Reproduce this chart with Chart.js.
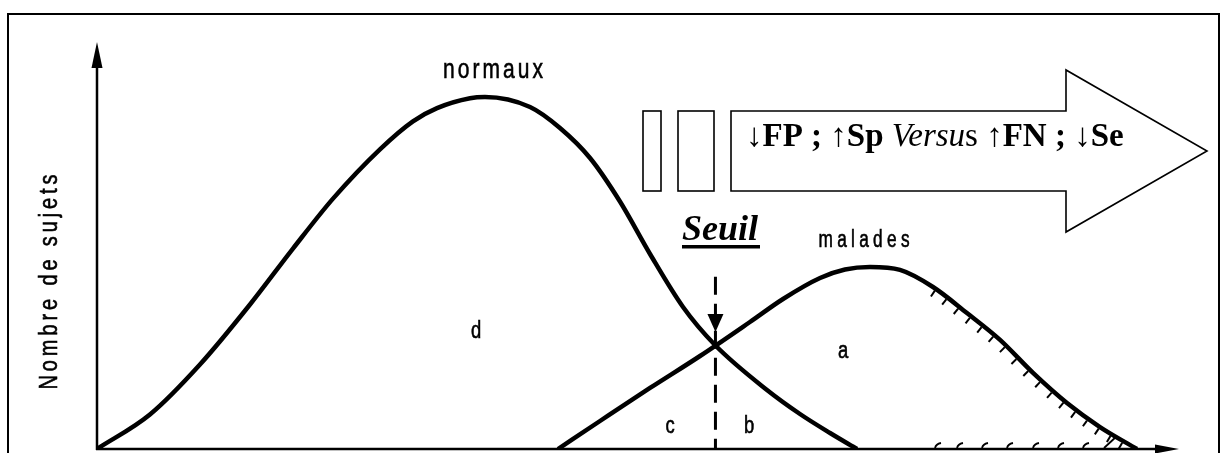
<!DOCTYPE html>
<html><head><meta charset="utf-8">
<script src="https://cdn.jsdelivr.net/npm/chart.js@4.4.0/dist/chart.umd.min.js"></script>
<style>html,body{margin:0;padding:0;background:#fff;}#wrap{width:1221px;height:453px;}</style>
</head><body><div id="wrap"><canvas id="c" width="1221" height="453"></canvas></div>
<script>
// ---- data (arbitrary units 0..100) ----
const normauxX = [0, 4.88, 9.49, 14.10, 18.06, 21.75, 26.08, 29.12, 31.34, 34.38, 35.76, 39.91, 42.67, 45.44, 48.20, 50.97, 54.01, 56.96, 61.75, 64.79, 67.56, 70.05];
const normauxY = [0, 8.48, 20.76, 35.50, 49.24, 61.52, 73.64, 80.52, 83.76, 86.19, 86.49, 84.03, 78.87, 71.50, 60.81, 47.91, 34.89, 25.55, 14.50, 8.60, 3.93, 0];
const maladesX = [42.49, 46.36, 50.97, 55.58, 60.18, 63.23, 66.64, 68.94, 71.24, 74.01, 77.05, 80.18, 83.23, 86.27, 89.40, 92.44, 95.85];
const maladesY = [0, 6.88, 14.99, 22.85, 31.20, 36.86, 42.01, 44.10, 44.72, 44.0, 39.8, 33.4, 26.8, 18.7, 11.3, 5.4, 0];
const seuilX = [57.0, 57.0];
const seuilY = [42.3, 0];

const seriesNames = ['normaux', 'malades'];
const axisTitle = 'Nombre de sujets';
const regionLetters = ['d', 'a', 'c', 'b'];
const thresholdLabel = 'Seuil';
const arrowTextParts = ['\u2193FP ; \u2191Sp ', 'Versu', 's ', '\u2191FN ; \u2193Se'];

const toPts = (xs, ys) => xs.map((x, i) => ({x: x, y: ys[i]}));

function drawSpaced(ctx, text, cx, baseY, font, targetW, sx, rot) {
  ctx.save();
  ctx.translate(cx, baseY);
  if (rot) ctx.rotate(rot);
  ctx.scale(sx, 1);
  ctx.font = font;
  const nat = ctx.measureText(text).width;
  const n = text.length;
  const ls = n > 1 ? (targetW / sx - nat) / (n - 1) : 0;
  const total = nat + ls * (n - 1);
  ctx.textAlign = 'left';
  ctx.textBaseline = 'alphabetic';
  ctx.lineWidth = 0.6;
  let x = -total / 2;
  for (const ch of text) {
    ctx.fillText(ch, x, 0);
    ctx.strokeText(ch, x, 0);
    x += ctx.measureText(ch).width + ls;
  }
  ctx.restore();
}

function sampleCurve(meta) {
  const pts = meta.data;
  const out = [];
  for (let i = 0; i < pts.length - 1; i++) {
    const a = pts[i], b = pts[i + 1];
    const p0 = [a.x, a.y], p1 = [a.cp2x ?? a.x, a.cp2y ?? a.y], p2 = [b.cp1x ?? b.x, b.cp1y ?? b.y], p3 = [b.x, b.y];
    for (let k = 0; k < 40; k++) {
      const t = k / 40, u = 1 - t;
      out.push({
        x: u*u*u*p0[0] + 3*u*u*t*p1[0] + 3*u*t*t*p2[0] + t*t*t*p3[0],
        y: u*u*u*p0[1] + 3*u*u*t*p1[1] + 3*u*t*t*p2[1] + t*t*t*p3[1]
      });
    }
  }
  out.push({x: pts[pts.length-1].x, y: pts[pts.length-1].y});
  return out;
}

const decor = {
  id: 'decor',
  beforeDatasetsDraw(chart) {
    const ctx = chart.ctx, ca = chart.chartArea;
    ctx.save();
    ctx.strokeStyle = '#000'; ctx.fillStyle = '#000';
    ctx.lineWidth = 2;
    ctx.strokeRect(8, 14, 1211, 460);
    ctx.lineWidth = 2.5;
    ctx.beginPath(); ctx.moveTo(ca.left, ca.bottom + 1); ctx.lineTo(ca.left, ca.top + 20); ctx.stroke();
    ctx.beginPath(); ctx.moveTo(ca.left, ca.top); ctx.lineTo(ca.left - 5.5, ca.top + 26); ctx.lineTo(ca.left + 5.5, ca.top + 26); ctx.closePath(); ctx.fill();
    ctx.beginPath(); ctx.moveTo(ca.left - 1, ca.bottom); ctx.lineTo(ca.right - 15, ca.bottom); ctx.stroke();
    ctx.beginPath(); ctx.moveTo(ca.right - 3, ca.bottom); ctx.lineTo(ca.right - 27, ca.bottom - 4.5); ctx.lineTo(ca.right - 27, ca.bottom + 4.5); ctx.closePath(); ctx.fill();
    ctx.restore();
  },
  afterDatasetsDraw(chart) {
    const ctx = chart.ctx, ca = chart.chartArea;
    const xs = chart.scales.x;
    ctx.save();
    ctx.strokeStyle = '#000'; ctx.fillStyle = '#000';

    const sx = xs.getPixelForValue(seuilX[0]);
    ctx.beginPath(); ctx.moveTo(sx, 332); ctx.lineTo(sx - 8, 314); ctx.lineTo(sx + 8, 314); ctx.closePath(); ctx.fill();

    const curve = sampleCurve(chart.getDatasetMeta(1));
    ctx.lineWidth = 2;
    for (let px = 936; px <= 1124; px += 11.7) {
      const j = curve.findIndex(p => p.x >= px);
      if (j < 1) continue;
      const a = curve[j-1], b = curve[j];
      const t = (px - a.x) / (b.x - a.x);
      const y = a.y + t * (b.y - a.y);
      let dx = b.x - a.x, dy = b.y - a.y; const L = Math.hypot(dx, dy); dx /= L; dy /= L;
      const nx = -dy, ny = dx;
      ctx.beginPath(); ctx.moveTo(px + nx * 2, y + ny * 2); ctx.lineTo(px + nx * 9, y + ny * 9); ctx.stroke();
    }
    const axisMarks = [935, 957, 982, 1007, 1033, 1058, 1083];
    ctx.lineWidth = 1.8;
    for (const m of axisMarks) {
      ctx.beginPath(); ctx.moveTo(m, ca.bottom - 1); ctx.quadraticCurveTo(m + 1, ca.bottom - 5, m + 6, ca.bottom - 6); ctx.stroke();
    }
    ctx.beginPath(); ctx.moveTo(1104, ca.bottom - 1); ctx.lineTo(1117, ca.bottom - 13); ctx.stroke();

    ctx.lineWidth = 1.6;
    ctx.strokeRect(643, 111, 18, 80);
    ctx.strokeRect(678, 111, 36, 80);
    ctx.beginPath();
    ctx.moveTo(731, 111); ctx.lineTo(1066, 111); ctx.lineTo(1066, 70); ctx.lineTo(1207, 151);
    ctx.lineTo(1066, 232); ctx.lineTo(1066, 191); ctx.lineTo(731, 191); ctx.closePath(); ctx.stroke();

    const fonts = ['bold 33px "Liberation Serif"', 'italic 33px "Liberation Serif"', '33px "Liberation Serif"', 'bold 33px "Liberation Serif"'];
    let tx = 746;
    ctx.textAlign = 'left'; ctx.textBaseline = 'alphabetic';
    arrowTextParts.forEach((s, i) => { ctx.font = fonts[i]; ctx.fillText(s, tx, 146); tx += ctx.measureText(s).width; });

    ctx.font = 'bold italic 36px "Liberation Serif"';
    const sw = ctx.measureText(thresholdLabel).width;
    ctx.fillText(thresholdLabel, 720 - sw / 2, 240);
    ctx.fillRect(682, 245, 78, 3.5);

    const sans = '"Liberation Sans"';
    drawSpaced(ctx, seriesNames[0], 493, 78, '28px ' + sans, 100, 0.75, 0);
    drawSpaced(ctx, seriesNames[1], 864, 247, '23px ' + sans, 91, 0.75, 0);
    const letterPos = [[476, 338], [843, 358], [670, 433], [749, 433]];
    regionLetters.forEach((l, i) => drawSpaced(ctx, l, letterPos[i][0], letterPos[i][1], '23px ' + sans, 10, 0.8, 0));
    drawSpaced(ctx, axisTitle, 57, 282, '25px ' + sans, 215, 0.8, -Math.PI / 2);
    ctx.restore();
  }
};

new Chart(document.getElementById('c'), {
  type: 'line',
  data: {
    datasets: [
      {label: seriesNames[0], data: toPts(normauxX, normauxY), borderColor: '#000', borderWidth: 4.5, pointRadius: 0, cubicInterpolationMode: 'monotone', fill: false},
      {label: seriesNames[1], data: toPts(maladesX, maladesY), borderColor: '#000', borderWidth: 4.5, pointRadius: 0, cubicInterpolationMode: 'monotone', fill: false},
      {label: thresholdLabel, data: toPts(seuilX, seuilY), borderColor: '#000', borderWidth: 3, borderDash: [18, 9], pointRadius: 0, tension: 0, fill: false}
    ]
  },
  options: {
    responsive: false,
    animation: false,
    events: [],
    layout: {padding: {left: 97, right: 39, top: 42, bottom: 4}},
    plugins: {legend: {display: false}, tooltip: {enabled: false}, title: {display: false}},
    scales: {
      x: {type: 'linear', min: 0, max: 100, display: false},
      y: {type: 'linear', min: 0, max: 100, display: false}
    }
  },
  plugins: [decor]
});
</script>
</body></html>
